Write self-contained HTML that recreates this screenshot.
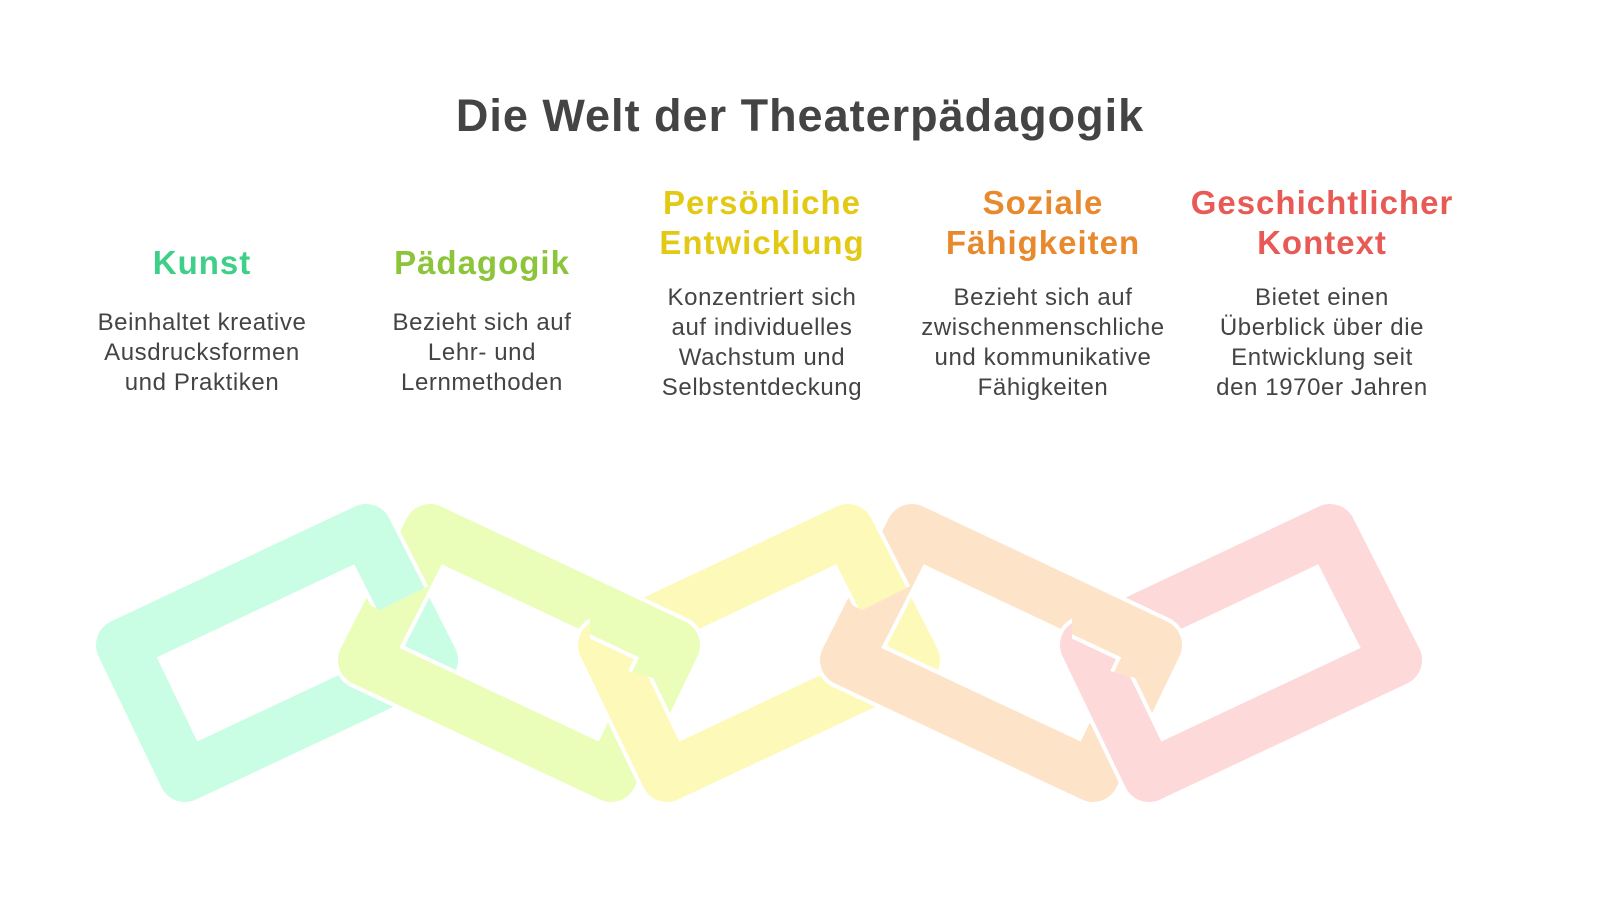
<!DOCTYPE html>
<html><head><meta charset="utf-8"><style>
body{margin:0;width:1600px;height:924px;background:#fff;position:relative;overflow:hidden;font-family:"Liberation Sans",sans-serif;}
.t{position:absolute;left:0;width:1600px;top:90px;text-align:center;font-size:45px;font-weight:bold;color:#444;letter-spacing:1px;}
.h{position:absolute;width:340px;text-align:center;font-size:33px;line-height:40px;font-weight:bold;letter-spacing:1px;}
.b{position:absolute;width:340px;text-align:center;font-size:24px;line-height:30px;color:#444;letter-spacing:0.6px;}
svg{position:absolute;left:0;top:0;}
</style></head><body>
<div class="t">Die Welt der Theaterpädagogik</div>
<div class="h" style="left:32px;top:243px;color:#3ecf88">Kunst</div>
<div class="h" style="left:312px;top:243px;color:#8cc43a">Pädagogik</div>
<div class="h" style="left:592px;top:183px;color:#e2c914">Persönliche<br>Entwicklung</div>
<div class="h" style="left:873px;top:183px;color:#e8892e">Soziale<br>Fähigkeiten</div>
<div class="h" style="left:1152px;top:183px;color:#e85a55">Geschichtlicher<br>Kontext</div>
<div class="b" style="left:32px;top:308px">Beinhaltet kreative<br>Ausdrucksformen<br>und Praktiken</div>
<div class="b" style="left:312px;top:308px">Bezieht sich auf<br>Lehr- und<br>Lernmethoden</div>
<div class="b" style="left:592px;top:283px">Konzentriert sich<br>auf individuelles<br>Wachstum und<br>Selbstentdeckung</div>
<div class="b" style="left:873px;top:283px">Bezieht sich auf<br>zwischenmenschliche<br>und kommunikative<br>Fähigkeiten</div>
<div class="b" style="left:1152px;top:283px">Bietet einen<br>Überblick über die<br>Entwicklung seit<br>den 1970er Jahren</div>
<svg width="1600" height="924" viewBox="0 0 1600 924">
<defs>
<path id="a" d="M366,530 L432,660 L185,776 L122,645 Z"/>
<path id="m" d="M430,530 L364,660 L611,776 L674,645 Z"/>
<clipPath id="c1"><polygon points="360,490 480,490 480,560 380,610 360,600"/></clipPath>
<clipPath id="c2"><polygon points="590,560 720,560 720,650 660,680 590,660"/></clipPath>
<clipPath id="c3"><polygon points="842,490 962,490 962,560 862,610 842,600"/></clipPath>
<clipPath id="c4"><polygon points="1072,560 1202,560 1202,650 1142,680 1072,660"/></clipPath>
</defs>
<g fill="none" stroke-linejoin="round">
<g><use href="#a" stroke="#fff" stroke-width="60"/><use href="#a" stroke="#c9fde4" stroke-width="52"/></g>
<g><use href="#m" stroke="#fff" stroke-width="60"/><use href="#m" stroke="#eafdb9" stroke-width="52"/></g>
<g transform="translate(482,0)"><use href="#a" stroke="#fff" stroke-width="60"/><use href="#a" stroke="#fdf9b9" stroke-width="52"/></g>
<g transform="translate(482,0)"><use href="#m" stroke="#fff" stroke-width="60"/><use href="#m" stroke="#fde4c9" stroke-width="52"/></g>
<g transform="translate(964,0)"><use href="#a" stroke="#fff" stroke-width="60"/><use href="#a" stroke="#fdd9d9" stroke-width="52"/></g>
<g clip-path="url(#c1)"><use href="#a" stroke="#fff" stroke-width="60"/><use href="#a" stroke="#c9fde4" stroke-width="52"/></g>
<g clip-path="url(#c2)"><use href="#m" stroke="#fff" stroke-width="60"/><use href="#m" stroke="#eafdb9" stroke-width="52"/></g>
<g clip-path="url(#c3)"><g transform="translate(482,0)"><use href="#a" stroke="#fff" stroke-width="60"/><use href="#a" stroke="#fdf9b9" stroke-width="52"/></g></g>
<g clip-path="url(#c4)"><g transform="translate(482,0)"><use href="#m" stroke="#fff" stroke-width="60"/><use href="#m" stroke="#fde4c9" stroke-width="52"/></g></g>
</g>
</svg>
</body></html>
